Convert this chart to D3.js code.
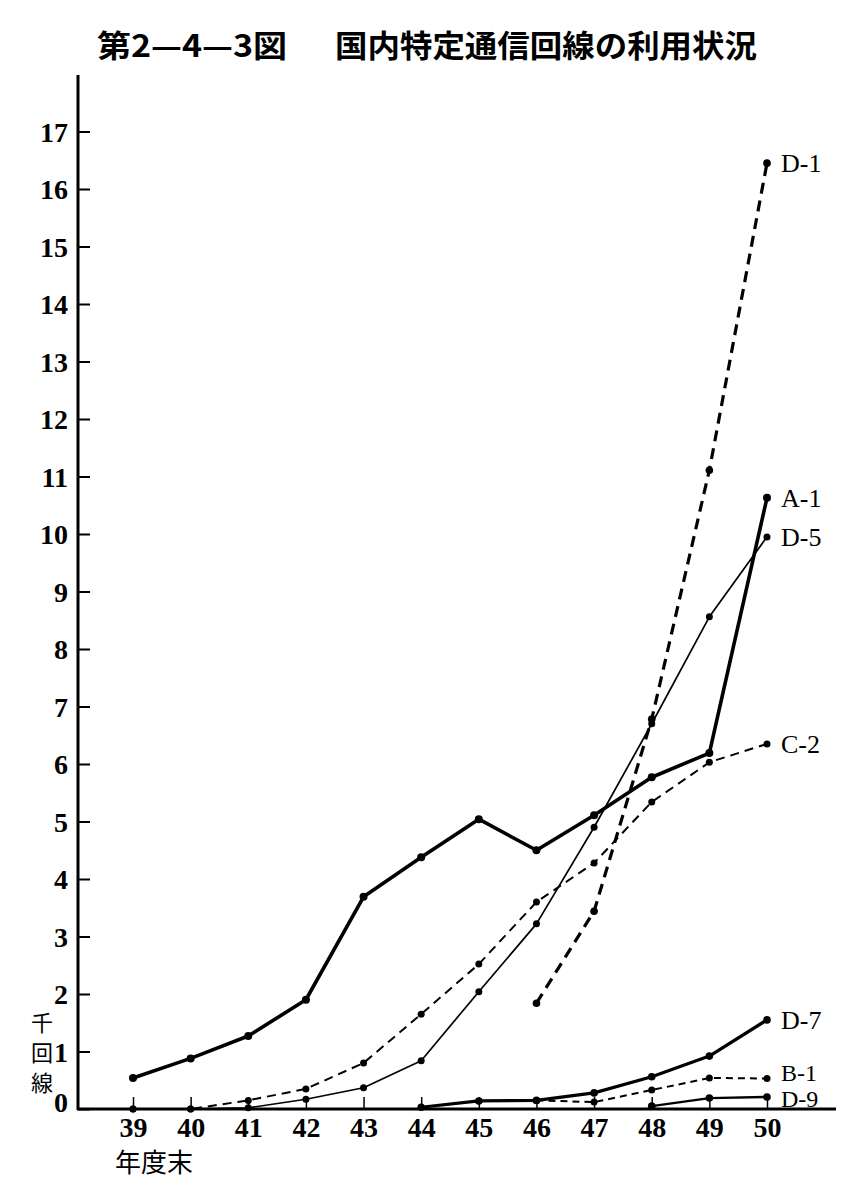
<!DOCTYPE html>
<html>
<head>
<meta charset="utf-8">
<script src="https://cdn.jsdelivr.net/npm/d3@7"></script>
<style>
  body { margin: 0; background: #fff; }
</style>
</head>
<body>
<div id="chart"></div>
<script>
// years (昭和 fiscal year end) and thousand-circuit values per service
var years = [39, 40, 41, 42, 43, 44, 45, 46, 47, 48, 49, 50];
var yTicks = [0, 1, 2, 3, 4, 5, 6, 7, 8, 9, 10, 11, 12, 13, 14, 15, 16, 17];

var A1 = [0.54, 0.88, 1.27, 1.9, 3.69, 4.38, 5.04, 4.5, 5.11, 5.77, 6.19, 10.63];
var D5 = [0, 0, 0.02, 0.17, 0.37, 0.84, 2.04, 3.22, 4.9, 6.7, 8.56, 9.95];
var C2 = [0, 0, 0.15, 0.35, 0.8, 1.65, 2.52, 3.6, 4.28, 5.34, 6.03, 6.35];
var D1 = [null, null, null, null, null, null, null, 1.84, 3.44, 6.78, 11.11, 16.45];
var D7 = [null, null, null, null, null, 0.03, 0.14, 0.15, 0.28, 0.56, 0.92, 1.55];
var B1 = [null, null, null, null, null, null, null, 0.15, 0.12, 0.33, 0.54, 0.53];
var D9 = [null, null, null, null, null, null, null, null, null, 0.05, 0.19, 0.21];

var seriesNames = ["D-1", "A-1", "D-5", "C-2", "D-7", "B-1", "D-9"];
var seriesValues = [D1, A1, D5, C2, D7, B1, D9];

var Width = 849, Height = 1189;

var svg = d3.select("#chart")
    .append("svg")
    .attr("width", Width)
    .attr("height", Height);

var x = d3.scaleLinear().domain([39, 50]).range([133, 767]);
var y = d3.scaleLinear().domain([0, 17]).range([1109, 131.5]);

// line look per series: width, dash, dot radius
var looks = {
    "D-1": {w: 3.2, dash: "11,7", r: 3.8},
    "A-1": {w: 3.6, dash: null, r: 4},
    "D-5": {w: 1.7, dash: null, r: 3.5},
    "C-2": {w: 2, dash: "9,6", r: 3.5},
    "D-7": {w: 3.2, dash: null, r: 3.8},
    "B-1": {w: 2, dash: "7,5", r: 3.5},
    "D-9": {w: 2.4, dash: null, r: 3.8}
};
// bottom two labels sit very close together, nudge + shrink them a bit
var labelDy = {"B-1": "0.12em", "D-9": "0.42em"};
var labelSize = {"B-1": "24px", "D-9": "24px"};

// title
var title = svg.append("g")
    .style("font-family", "'Noto Sans CJK JP', sans-serif")
    .style("font-weight", "bold")
    .style("font-size", "31px")
    .attr("fill", "#000");
title.append("text")
    .attr("x", 97).attr("y", 57)
    .attr("textLength", 190).attr("lengthAdjust", "spacingAndGlyphs")
    .text("第2—4—3図");
title.append("text")
    .attr("x", 335).attr("y", 57)
    .attr("textLength", 422).attr("lengthAdjust", "spacingAndGlyphs")
    .text("国内特定通信回線の利用状況");

// axes
var plot = svg.append("g");

var yAxis = d3.axisLeft(y)
    .tickValues(yTicks)
    .tickSizeInner(-12)
    .tickSizeOuter(0)
    .tickPadding(10);

var yG = plot.append("g")
    .attr("transform", "translate(78,0)")
    .call(yAxis);
yG.select(".domain").remove();
yG.selectAll("line").attr("stroke", "#000").attr("stroke-width", 2);
yG.selectAll("text")
    .style("font-family", "'Liberation Serif', serif")
    .style("font-weight", "bold")
    .style("font-size", "28px")
    .attr("fill", "#000")
    .attr("dy", function (d) { return d === 0 ? "0.1em" : "0.35em"; });

var xAxis = d3.axisBottom(x)
    .tickValues(years)
    .tickSizeInner(-12)
    .tickSizeOuter(0)
    .tickPadding(8)
    .tickFormat(d3.format("d"));

var xG = plot.append("g")
    .attr("transform", "translate(0,1109)")
    .call(xAxis);
xG.select(".domain").remove();
xG.selectAll("line").attr("stroke", "#000").attr("stroke-width", 1.5);
xG.selectAll("text")
    .style("font-family", "'Liberation Serif', serif")
    .style("font-weight", "bold")
    .style("font-size", "28px")
    .attr("fill", "#000");

// axis lines
plot.append("line")
    .attr("x1", 78).attr("y1", 75)
    .attr("x2", 78).attr("y2", 1110)
    .attr("stroke", "#000").attr("stroke-width", 3);
plot.append("line")
    .attr("x1", 77).attr("y1", 1109)
    .attr("x2", 836).attr("y2", 1109)
    .attr("stroke", "#000").attr("stroke-width", 3);

// unit labels
var unit = svg.append("g")
    .style("font-family", "'Noto Sans CJK JP', sans-serif")
    .style("font-size", "22px")
    .attr("fill", "#000");
unit.selectAll("text")
    .data(["千", "回", "線"])
    .enter()
    .append("text")
    .attr("x", 42)
    .attr("y", function (d, i) { return 1031 + i * 30; })
    .attr("text-anchor", "middle")
    .text(function (d) { return d; });
unit.append("text")
    .attr("x", 115).attr("y", 1172)
    .style("font-size", "26px")
    .text("年度末");

// series
var line = d3.line()
    .defined(function (d) { return d.v != null; })
    .x(function (d) { return x(d.year); })
    .y(function (d) { return y(d.v); });

var data = seriesNames.map(function (name, i) {
    return {
        name: name,
        points: years.map(function (yr, j) { return {year: yr, v: seriesValues[i][j]}; })
    };
});

var series = svg.selectAll("g.series")
    .data(data)
    .enter()
    .append("g")
    .attr("class", "series");

series.append("path")
    .attr("d", function (d) { return line(d.points); })
    .attr("fill", "none")
    .attr("stroke", "#000")
    .attr("stroke-linejoin", "round")
    .attr("stroke-width", function (d) { return looks[d.name].w; })
    .attr("stroke-dasharray", function (d) { return looks[d.name].dash; });

series.selectAll("circle")
    .data(function (d) {
        return d.points.filter(function (p) { return p.v != null; })
            .map(function (p) { return {year: p.year, v: p.v, r: looks[d.name].r}; });
    })
    .enter()
    .append("circle")
    .attr("cx", function (d) { return x(d.year); })
    .attr("cy", function (d) { return y(d.v); })
    .attr("r", function (d) { return d.r; })
    .attr("fill", "#000");

// end labels
series.append("text")
    .attr("x", function (d) { return x(50) + 14; })
    .attr("y", function (d) { return y(d.points[d.points.length - 1].v); })
    .attr("dy", function (d) { return labelDy[d.name] || "0.35em"; })
    .style("font-family", "'Liberation Serif', serif")
    .style("font-size", function (d) { return labelSize[d.name] || "26px"; })
    .attr("fill", "#000")
    .text(function (d) { return d.name; });
</script>
</body>
</html>
